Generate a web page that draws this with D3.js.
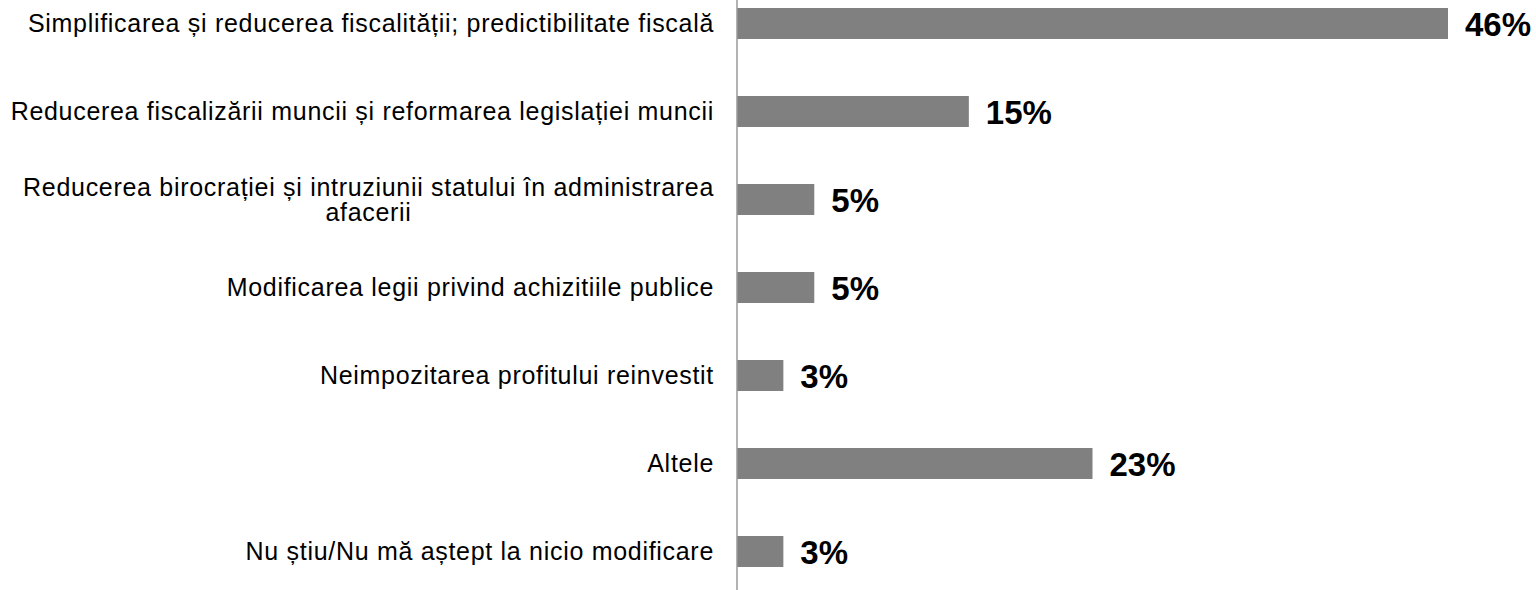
<!DOCTYPE html>
<html>
<head>
  <meta charset="utf-8">
  <title>Bar chart</title>
  <script src="https://d3js.org/d3.v7.min.js"></script>
  <style>
    body { margin: 0; background: #fff; }
    .cat { font-family: "Liberation Sans", Arial, sans-serif; font-size: 25px; letter-spacing: 0.7px; fill: #000; }
    .val { font-family: "Liberation Sans", Arial, sans-serif; font-size: 33px; font-weight: bold; fill: #000; }
  </style>
</head>
<body>
  <script>
    // Data
    const categories = [
      "Simplificarea și reducerea fiscalității; predictibilitate fiscală",
      "Reducerea fiscalizării muncii și reformarea legislației muncii",
      "Reducerea birocrației și intruziunii statului în administrarea afacerii",
      "Modificarea legii privind achizitiile publice",
      "Neimpozitarea profitului reinvestit",
      "Altele",
      "Nu știu/Nu mă aștept la nicio modificare"
    ];
    const values = [46, 15, 5, 5, 3, 23, 3];
    // wrapped labels (line breaks as in the original)
    const labelLines = [
      ["Simplificarea și reducerea fiscalității; predictibilitate fiscală"],
      ["Reducerea fiscalizării muncii și reformarea legislației muncii"],
      ["Reducerea birocrației și intruziunii statului în administrarea", "afacerii"],
      ["Modificarea legii privind achizitiile publice"],
      ["Neimpozitarea profitului reinvestit"],
      ["Altele"],
      ["Nu știu/Nu mă aștept la nicio modificare"]
    ];

    const width = 1536;
    const height = 590;
    const x0 = 737;

    const svg = d3.create("svg")
        .attr("width", width)
        .attr("height", height);
    // append early so text can be measured
    document.body.appendChild(svg.node());

    const x = d3.scaleLinear()
        .domain([0, 46])
        .range([x0, 1448]);

    const y = d3.scaleBand()
        .domain(categories)
        .range([-20.5, 595.5])
        .paddingInner(0.648)
        .paddingOuter(0.324);

    // bars
    svg.selectAll(".bar")
        .data(values)
        .join("rect")
        .attr("class", "bar")
        .attr("x", x(0))
        .attr("y", (d, i) => y(categories[i]))
        .attr("width", d => x(d) - x(0))
        .attr("height", y.bandwidth())
        .attr("fill", "#808080");

    // value labels
    svg.selectAll(".val")
        .data(values)
        .join("text")
        .attr("class", "val")
        .attr("x", d => x(d) + 17)
        .attr("y", (d, i) => y(categories[i]) + y.bandwidth() / 2 + 12)
        .text(d => d + "%");

    // category labels
    const lineH = 25;
    const labelX = 714;
    const cat = svg.selectAll(".cat")
        .data(labelLines)
        .join("text")
        .attr("class", "cat")
        .attr("text-anchor", "end")
        .attr("y", (d, i) => y(categories[i]) + y.bandwidth() / 2 + 8.5 - (d.length - 1) * lineH / 2);

    cat.each(function(lines) {
      const t = d3.select(this);
      t.selectAll("tspan")
          .data(lines)
          .join("tspan")
          .attr("x", labelX)
          .attr("dy", (d, j) => j === 0 ? 0 : lineH)
          .text(d => d);
      if (lines.length > 1) {
        // center the lines on the first one
        const w = t.select("tspan").node().getComputedTextLength();
        t.attr("text-anchor", "middle");
        t.selectAll("tspan").attr("x", labelX - w / 2);
      }
    });

    // axis line
    svg.append("line")
        .attr("x1", x0)
        .attr("x2", x0)
        .attr("y1", 0)
        .attr("y2", height)
        .attr("stroke", "#999")
        .attr("stroke-width", 1.5);
  </script>
</body>
</html>
